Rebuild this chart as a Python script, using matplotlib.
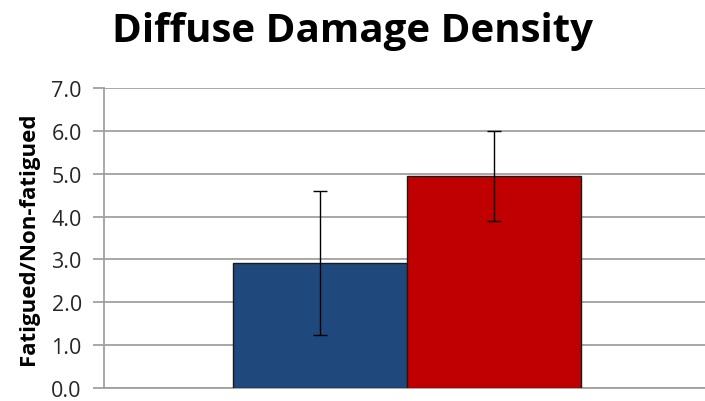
import matplotlib.pyplot as plt

# data
groups = ['Non-fatigued ratio', 'Fatigued ratio']
values = [2.92, 4.95]
err_low = [1.24, 3.90]
err_high = [4.60, 6.00]
bar_colors = ['#1f497d', '#c00000']
yticks = [0, 1, 2, 3, 4, 5, 6, 7]

fig = plt.figure(figsize=(7.05, 4.02), dpi=100)
ax = fig.add_axes([0.1475, 0.0323, 0.8525, 0.7463])

x = [0, 1]
yerr = [[v - lo for v, lo in zip(values, err_low)],
        [hi - v for v, hi in zip(values, err_high)]]
ax.bar(x, values, width=1.0, color=bar_colors, edgecolor='#1a1a1a', linewidth=1.0, zorder=3)
ax.errorbar(x, values, yerr=yerr, fmt='none', ecolor='black', elinewidth=1.0,
            capsize=4.7, capthick=1.0, zorder=4)

ax.set_xlim(-1.241, 2.213)
ax.set_ylim(0, 7)
ax.set_yticks(yticks)
ax.set_yticklabels([f'{t:.1f}' for t in yticks], fontsize=15.5, family='Open Sans', color='#262626')
ax.set_xticks([])
ax.grid(axis='y', color='#a0a0a0', linewidth=1.3, zorder=0)
ax.tick_params(axis='y', length=8, color='#a0a0a0', width=1.3, pad=8)

for side in ['top', 'right']:
    ax.spines[side].set_visible(False)
ax.spines['left'].set_color('#a0a0a0')
ax.spines['left'].set_linewidth(1.3)
ax.spines['bottom'].set_color('#a0a0a0')
ax.spines['bottom'].set_linewidth(1.3)

ax.set_ylabel('Fatigued/Non-fatigued', fontsize=16, fontweight='bold', family='Open Sans', labelpad=9)
fig.text(0.5, 0.922, 'Diffuse Damage Density', ha='center', va='center',
         fontsize=29, fontweight='bold', family='Open Sans')

fig.savefig('out.png', dpi=100)
